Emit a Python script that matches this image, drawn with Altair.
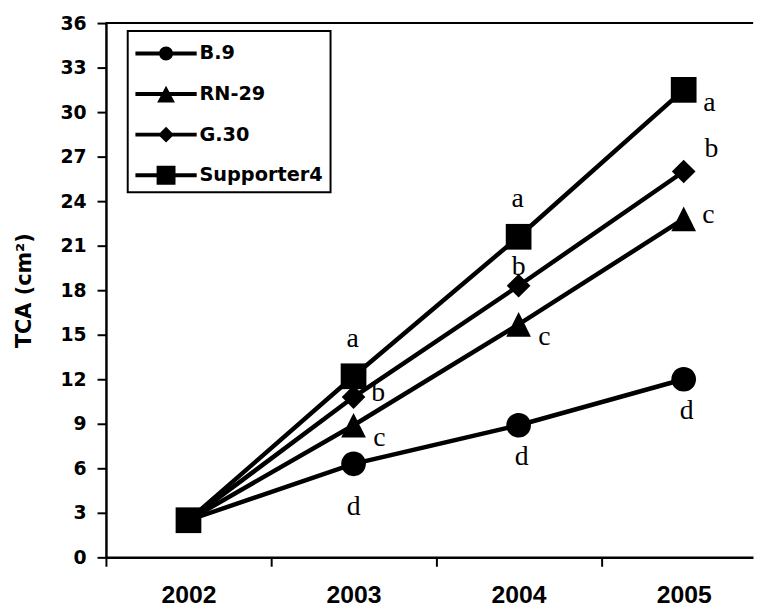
import altair as alt
import pandas as pd

years = [2002, 2003, 2004, 2005]
series_names = ["B.9", "RN-29", "G.30", "Supporter4"]
b9 = [2.5, 6.3, 8.9, 12.0]
rn29 = [2.5, 8.9, 15.7, 22.8]
g30 = [2.5, 10.8, 18.3, 26.0]
sup4 = [2.5, 12.2, 21.6, 31.5]

b9_letters = ["", "d", "d", "d"]
rn29_letters = ["", "c", "c", "c"]
g30_letters = ["", "b", "b", "b"]
sup4_letters = ["", "a", "a", "a"]

# where each significance letter sits relative to its point
b9_place = ["", "below", "below_near", "below_near"]
rn29_place = ["", "rightdown", "rightdown", "right"]
g30_place = ["", "right", "above_near", "rightup"]
sup4_place = ["", "above", "above", "rightdown"]

y_ticks = [0, 3, 6, 9, 12, 15, 18, 21, 24, 27, 30, 33, 36]
x_axis_values = [2001.5, 2002, 2002.5, 2003, 2003.5, 2004, 2004.5, 2005]

rows = []
for name, vals, letters, places in zip(
    series_names,
    [b9, rn29, g30, sup4],
    [b9_letters, rn29_letters, g30_letters, sup4_letters],
    [b9_place, rn29_place, g30_place, sup4_place],
):
    for yr, v, l, p in zip(years, vals, letters, places):
        rows.append(dict(year=yr, tca=v, series=name, letter=l, place=p))
df = pd.DataFrame(rows)

place_offsets = {
    "above": (-1, -38),
    "above_near": (0, -19),
    "below": (0, 44),
    "below_near": (3, 32),
    "right": (25, -4),
    "rightdown": (26, 13),
    "rightup": (28, -23),
}

marker_paths = [
    "M-0.96,0A0.96,0.96 0 1,1 0.96,0A0.96,0.96 0 1,1 -0.96,0Z",
    "M0,-0.96L0.96,0.96L-0.96,0.96Z",
    "M0,-0.92L0.92,0L0,0.92L-0.92,0Z",
    "square",
]
seg = "M-3.44,-0.22H3.44V0.22H-3.44Z"
legend_paths = [
    seg + "M-0.78,0A0.78,0.78 0 1,1 0.78,0A0.78,0.78 0 1,1 -0.78,0Z",
    seg + "M0,-0.94L1,0.94L-1,0.94Z",
    seg + "M0,-0.89L0.89,0L0,0.89L-0.89,0Z",
    seg + "M-1.06,-1.06H1.06V1.06H-1.06Z",
]

x_scale = alt.Scale(domain=[2001.5, 2005.42], nice=False, zero=False)
y_scale = alt.Scale(domain=[0, 36], nice=False)

x_axis = alt.Axis(
    values=x_axis_values,
    title=None,
    grid=False,
    labelExpr="datum.value % 1 == 0 ? '' + datum.value : ''",
    tickOpacity={"condition": {"test": "datum.value % 1 == 0", "value": 0}, "value": 1},
    labelFlush=False,
    labelOverlap=False,
    tickSize=9,
    tickWidth=2,
    domainWidth=2.5,
    domainColor="black",
    tickColor="black",
    labelColor="black",
    labelFont="Liberation Sans",
    labelFontSize=25,
    labelFontWeight="bold",
    labelPadding=17,
)
y_axis = alt.Axis(
    values=y_ticks,
    title="TCA (cm²)",
    grid=False,
    tickSize=9,
    tickWidth=2,
    domainWidth=2.5,
    domainColor="black",
    tickColor="black",
    labelColor="black",
    labelFont="DejaVu Sans",
    labelFontSize=19,
    labelFontWeight="bold",
    labelPadding=11,
    titleFont="DejaVu Sans",
    titleFontSize=21,
    titleFontWeight="bold",
    titleColor="black",
    titlePadding=26,
)

x_enc = alt.X("year:Q", scale=x_scale, axis=x_axis)
y_enc = alt.Y("tca:Q", scale=y_scale, axis=y_axis)

base = alt.Chart(df)

top_rule = base.mark_rule(color="black", strokeWidth=2).encode(
    y=alt.YDatum(36, axis=y_axis, title="TCA (cm²)")
)

lines = base.mark_line(color="black", strokeWidth=4.5).encode(
    x=x_enc, y=y_enc, detail="series:N"
)

points = base.mark_point(filled=True, color="black", size=676, opacity=1).encode(
    x=x_enc,
    y=y_enc,
    shape=alt.Shape(
        "series:N",
        scale=alt.Scale(domain=series_names, range=marker_paths),
        legend=None,
    ),
)

legend_layer = (
    base.transform_filter("datum.year < 0")
    .mark_point(filled=True, color="black", size=324, opacity=1)
    .encode(
        x=x_enc,
        y=y_enc,
        shape=alt.Shape(
            "series:N",
            scale=alt.Scale(domain=series_names, range=legend_paths),
            legend=alt.Legend(
                orient="none",
                legendX=22,
                legendY=8,
                title=" ",
                titleFontSize=2,
                titlePadding=4,
                padding=7,
                rowPadding=20,
                symbolSize=324,
                symbolOffset=22,
                labelOffset=24,
                symbolStrokeWidth=0,
                symbolOpacity=1,
                labelFont="DejaVu Sans",
                labelFontSize=19.5,
                labelFontWeight="bold",
                labelColor="black",
                strokeColor="black",
                fillColor="white",
            ),
        ),
    )
)

text_layers = []
for pname, (dx, dy) in place_offsets.items():
    t = (
        base.transform_filter(alt.datum.place == pname)
        .mark_text(
            font="Liberation Serif",
            fontSize=28,
            color="black",
            align="center",
            baseline="middle",
            dx=dx,
            dy=dy,
        )
        .encode(x=x_enc, y=y_enc, text="letter:N")
    )
    text_layers.append(t)

chart = (
    alt.layer(lines, points, legend_layer, *text_layers, top_rule)
    .resolve_scale(shape="independent")
    .properties(
        width=654,
        height=540,
        padding={"left": 5, "top": 3, "right": 0, "bottom": 0},
        background="white",
    )
    .configure_view(stroke=None)
    .configure_legend(strokeWidth=2)
)

chart.save("out.html", embed_options={"renderer": "svg", "actions": False})
